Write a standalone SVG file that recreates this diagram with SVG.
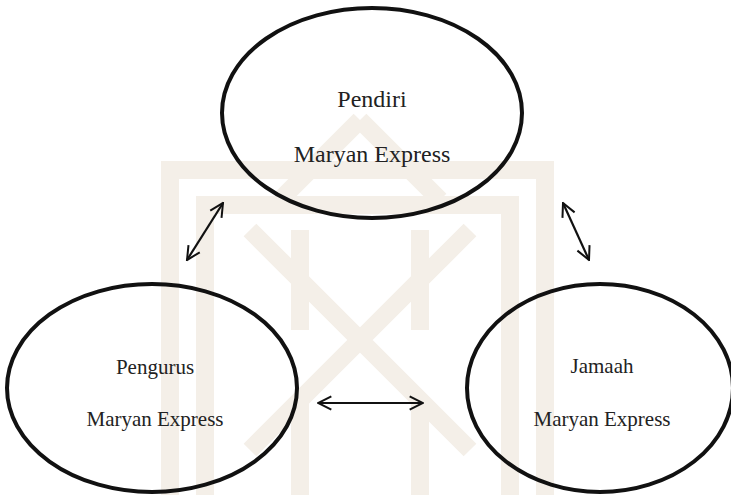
<svg xmlns="http://www.w3.org/2000/svg" width="731" height="495" viewBox="0 0 731 495">
<style>
.node{fill:none;stroke:#111;stroke-width:4}
.lbl{font-family:"Liberation Serif","Times New Roman",serif;fill:#222;text-anchor:middle}
.con{stroke:#111;stroke-width:2.2;fill:none;marker-start:url(#ah);marker-end:url(#ah)}
.wm{fill:none;stroke:#f4efe8;stroke-width:18;stroke-linejoin:miter}
</style>
<defs>
<marker id="ah" viewBox="0 0 12 12" refX="11" refY="6" markerWidth="16" markerHeight="16" orient="auto-start-reverse" markerUnits="userSpaceOnUse">
<path d="M1,1 L11,6 L1,11" fill="none" stroke="#111" stroke-width="1.5"/>
</marker>
</defs>
<rect width="731" height="495" fill="#fff"/>
<g id="watermark">
<path class="wm" d="M170,495 V170 H545 V495"/>
<path class="wm" d="M205,495 V205 H510 V495"/>
<path class="wm" d="M250,230 L470,450 M470,230 L250,450"/>
<path class="wm" d="M300,230 V330 M420,230 V330 M300,400 V495 M420,400 V495"/>
<path class="wm" d="M360,120 L440,200 M360,120 L280,200"/>
</g>
<g id="connectors">
<line class="con" x1="187" y1="260" x2="223" y2="203"/>
<line class="con" x1="563" y1="203" x2="589" y2="260"/>
<line class="con" x1="318" y1="403" x2="423" y2="403"/>
</g>
<g id="pendiri">
<ellipse class="node" cx="372" cy="113" rx="150" ry="105"/>
<text class="lbl" x="372" y="107" font-size="24">Pendiri</text>
<text class="lbl" x="372" y="162" font-size="24">Maryan Express</text>
</g>
<g id="pengurus">
<ellipse class="node" cx="152" cy="388" rx="145" ry="104"/>
<text class="lbl" x="155" y="374" font-size="21">Pengurus</text>
<text class="lbl" x="155" y="426" font-size="21">Maryan Express</text>
</g>
<g id="jamaah">
<ellipse class="node" cx="600" cy="388" rx="133" ry="104"/>
<text class="lbl" x="602" y="373" font-size="21">Jamaah</text>
<text class="lbl" x="602" y="426" font-size="21">Maryan Express</text>
</g>
</svg>
